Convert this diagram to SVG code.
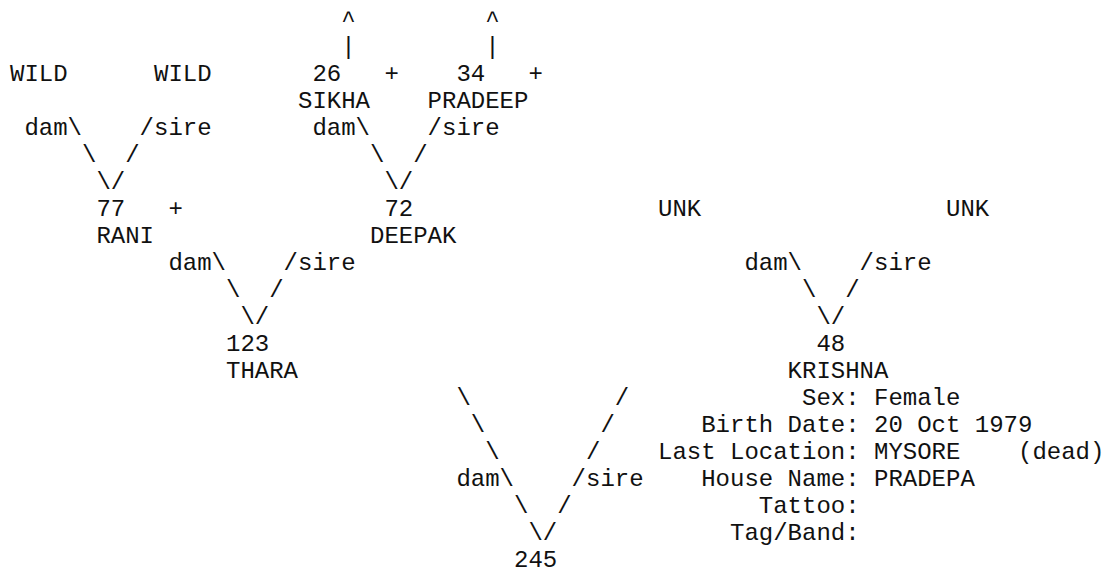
<svg xmlns="http://www.w3.org/2000/svg" width="1107" height="576" viewBox="0 0 1107 576">
<style>
text { font-family: "Liberation Mono", "Courier New", monospace; font-size: 24px; fill: #111; white-space: pre; }
</style>
<rect width="1107" height="576" fill="#fff"/>
<g id="connectors">
  <text x="341.2" y="26.7">^</text><text x="485.2" y="26.7">^</text>
  <text x="341.2" y="53.7">|</text><text x="485.2" y="53.7">|</text>
  <text x="384.4" y="80.7">+</text><text x="528.4" y="80.7">+</text>
  <text x="24.4" y="134.7">dam\</text><text x="139.6" y="134.7">/sire</text>
  <text x="312.4" y="134.7">dam\</text><text x="427.6" y="134.7">/sire</text>
  <text x="82" y="161.7">\</text><text x="125.2" y="161.7">/</text>
  <text x="370" y="161.7">\</text><text x="413.2" y="161.7">/</text>
  <text x="96.4" y="188.7">\/</text><text x="384.4" y="188.7">\/</text>
  <text x="168.4" y="215.7">+</text>
  <text x="168.4" y="269.7">dam\</text><text x="283.6" y="269.7">/sire</text>
  <text x="744.4" y="269.7">dam\</text><text x="859.6" y="269.7">/sire</text>
  <text x="226" y="296.7">\</text><text x="269.2" y="296.7">/</text>
  <text x="802" y="296.7">\</text><text x="845.2" y="296.7">/</text>
  <text x="240.4" y="323.7">\/</text><text x="816.4" y="323.7">\/</text>
  <text x="456.4" y="404.7">\</text><text x="614.8" y="404.7">/</text>
  <text x="470.8" y="431.7">\</text><text x="600.4" y="431.7">/</text>
  <text x="485.2" y="458.7">\</text><text x="586" y="458.7">/</text>
  <text x="456.4" y="485.7">dam\</text><text x="571.6" y="485.7">/sire</text>
  <text x="514" y="512.7">\</text><text x="557.2" y="512.7">/</text>
  <text x="528.4" y="539.7">\/</text>
</g>
<g id="node-wild-dam"><text x="10" y="80.7">WILD</text></g>
<g id="node-wild-sire"><text x="154" y="80.7">WILD</text></g>
<g id="node-26"><text x="312.4" y="80.7">26</text><text x="298" y="107.7">SIKHA</text></g>
<g id="node-34"><text x="456.4" y="80.7">34</text><text x="427.6" y="107.7">PRADEEP</text></g>
<g id="node-77"><text x="96.4" y="215.7">77</text><text x="96.4" y="242.7">RANI</text></g>
<g id="node-72"><text x="384.4" y="215.7">72</text><text x="370" y="242.7">DEEPAK</text></g>
<g id="node-unk-dam"><text x="658" y="215.7">UNK</text></g>
<g id="node-unk-sire"><text x="946" y="215.7">UNK</text></g>
<g id="node-123"><text x="226" y="350.7">123</text><text x="226" y="377.7">THARA</text></g>
<g id="node-48"><text x="816.4" y="350.7">48</text><text x="787.6" y="377.7">KRISHNA</text></g>
<g id="node-info">
  <text x="802" y="404.7">Sex:</text><text x="874" y="404.7">Female</text>
  <text x="701.2" y="431.7">Birth Date:</text><text x="874" y="431.7">20 Oct 1979</text>
  <text x="658" y="458.7">Last Location:</text><text x="874" y="458.7">MYSORE</text><text x="1018" y="458.7">(dead)</text>
  <text x="701.2" y="485.7">House Name:</text><text x="874" y="485.7">PRADEPA</text>
  <text x="758.8" y="512.7">Tattoo:</text>
  <text x="730" y="539.7">Tag/Band:</text>
</g>
<g id="node-245"><text x="514" y="566.7">245</text></g>
</svg>
